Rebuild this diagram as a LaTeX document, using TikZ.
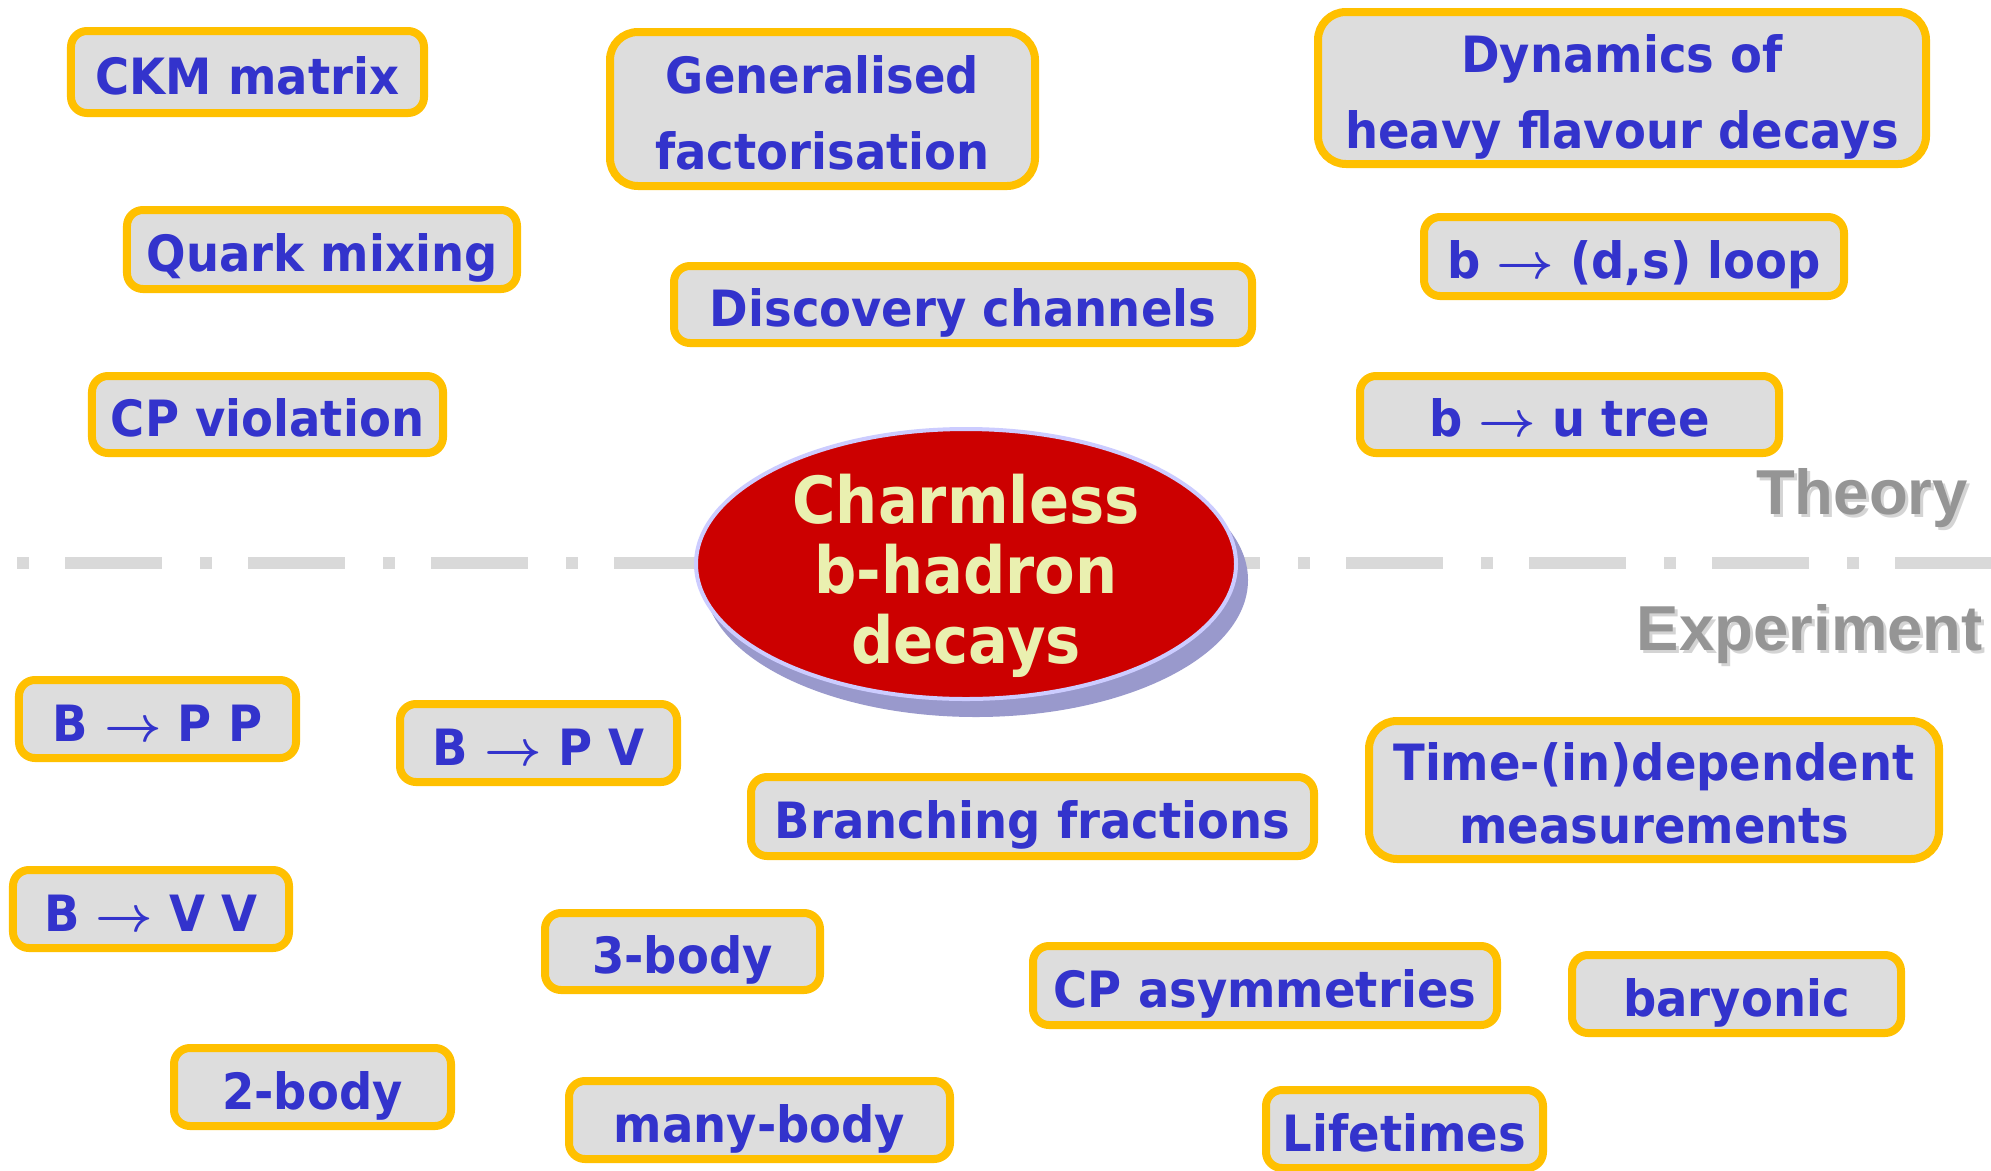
\documentclass[tikz,border=0pt]{standalone}
\usepackage{fix-cm}
\usepackage{amsmath}
\usepackage{fontspec}
\setmainfont{DejaVu Sans}
\newfontfamily\tagfont{DejaVu Sans Bold}[FakeStretch=0.93]
\newfontfamily\hubfont{DejaVu Sans Bold}[FakeStretch=0.91]
\newfontfamily\sidefont{Liberation Sans Bold}
\usetikzlibrary{shapes.geometric}

\definecolor{tagfill}{HTML}{DDDDDD}
\definecolor{tagedge}{HTML}{FFC000}
\definecolor{tagink}{HTML}{3333CC}
\definecolor{hubred}{HTML}{CC0000}
\definecolor{hubrim}{HTML}{CCCCFF}
\definecolor{hubshade}{HTML}{9999CC}
\definecolor{hubink}{HTML}{EAF0B0}
\definecolor{divider}{HTML}{D9D9D9}
\definecolor{sideink}{HTML}{959595}
\definecolor{sideshade}{HTML}{D4D4D4}

% one text line with a fixed height and no depth, so baselines sit evenly
\newcommand{\fixline}[2][44bp]{\raisebox{0pt}[#1][0pt]{#2}}
% long arrow used in the decay labels
\newcommand{\decayto}{\ $\boldsymbol{\rightarrow}$\ }

\tikzset{
  tag/.style={draw=tagedge, line width=8bp, fill=tagfill, rounded corners=16bp,
    inner sep=0pt, outer sep=0pt, text=tagink, align=center,
    font=\tagfont\fontsize{50bp}{76bp}\selectfont},
  tall/.style={rounded corners=28bp},
  hub/.style={ellipse, fill=hubred, draw=hubrim, line width=4bp,
    inner sep=0pt, outer sep=0pt},
  hubtext/.style={inner sep=0pt, text=hubink, align=center,
    font=\hubfont\fontsize{65bp}{70bp}\selectfont},
  side/.style={inner sep=0pt, anchor=base east, text=sideink,
    font=\sidefont\fontsize{63.5bp}{70bp}\selectfont},
  sideshadow/.style={side, text=sideshade},
  split/.style={draw=divider, line width=12bp,
    dash pattern=on 12bp off 36bp on 97bp off 38bp}
}

\begin{document}
\begin{tikzpicture}[x=1bp, y=-1bp]
  \fill[white] (0,0) rectangle (1991,1170);
  \useasboundingbox (0,0) rectangle (1991,1170);

  % theory / experiment divider
  \coordinate (splitL) at (17,563);
  \coordinate (splitR) at (1991,563);
  \draw[split] (splitL) -- (splitR);

  % side labels
  \node[sideshadow] (theoryshade) at (1971,517) {Theory};
  \node[side] (theory) at (1968,514) {Theory};
  \node[sideshadow] (experimentshade) at (1986,653) {Experiment};
  \node[side] (experiment) at (1983,650) {Experiment};

  % central ellipse with its shadow
  \fill[hubshade] (976,580) ellipse [x radius=272, y radius=137];
  \node[hub, minimum width=540bp, minimum height=270bp] (hub) at (966,564) {};
  \node[hubtext] (hubtitle) at (hub.center)
    {\fixline[58bp]{Charmless}\\\fixline[58bp]{b-hadron}\\\fixline[58bp]{decays}};

  % theory topics
  \node[tag, minimum width=353bp, minimum height=82bp] (ckm) at (247.5,72) {\fixline{CKM matrix}};
  \node[tag, tall, minimum width=425bp, minimum height=154bp] (genfac) at (822.5,109)
    {\fixline{Generalised}\\\fixline{factorisation}};
  \node[tag, tall, minimum width=608bp, minimum height=152bp] (dynamics) at (1622,88)
    {\fixline{Dynamics of}\\\fixline{heavy flavour decays}};
  \node[tag, minimum width=390bp, minimum height=79bp] (mixing) at (322,249.5) {\fixline{Quark mixing}};
  \node[tag, minimum width=578bp, minimum height=77bp] (discovery) at (963,304.5) {\fixline{Discovery channels}};
  \node[tag, minimum width=420bp, minimum height=79bp] (loop) at (1634,256.5) {\fixline{b\decayto(d,s) loop}};
  \node[tag, minimum width=351bp, minimum height=77bp] (cpv) at (267.5,414.5) {\fixline{CP violation}};
  \node[tag, minimum width=419bp, minimum height=77bp] (tree) at (1569.5,414.5) {\fixline{b\decayto u tree}};

  % experiment topics
  \node[tag, minimum width=277bp, minimum height=78bp] (bpp) at (157.5,719) {\fixline{B\decayto P P}};
  \node[tag, minimum width=277bp, minimum height=78bp] (bpv) at (538.5,743) {\fixline{B\decayto P V}};
  \node[tag, minimum width=563bp, minimum height=79bp] (branching) at (1032.5,816.5) {\fixline{Branching fractions}};
  \node[tag, tall, minimum width=570bp, minimum height=138bp,
        font=\tagfont\fontsize{50bp}{63bp}\selectfont] (timedep) at (1654,790)
    {\fixline{Time-(in)dependent}\\\fixline{measurements}};
  \node[tag, minimum width=276bp, minimum height=78bp] (bvv) at (151,909) {\fixline{B\decayto V V}};
  \node[tag, minimum width=275bp, minimum height=77bp] (threebody) at (682.5,951.5) {\fixline{3-body}};
  \node[tag, minimum width=464bp, minimum height=79bp] (cpasym) at (1265,985.5) {\fixline{CP asymmetries}};
  \node[tag, minimum width=329bp, minimum height=78bp] (baryonic) at (1736.5,994) {\fixline{baryonic}};
  \node[tag, minimum width=277bp, minimum height=78bp] (twobody) at (312.5,1087) {\fixline{2-body}};
  \node[tag, minimum width=381bp, minimum height=78bp] (manybody) at (759.5,1120) {\fixline{many-body}};
  \node[tag, minimum width=277bp, minimum height=78bp] (lifetimes) at (1404.5,1129) {\fixline{Lifetimes}};
\end{tikzpicture}
\end{document}
